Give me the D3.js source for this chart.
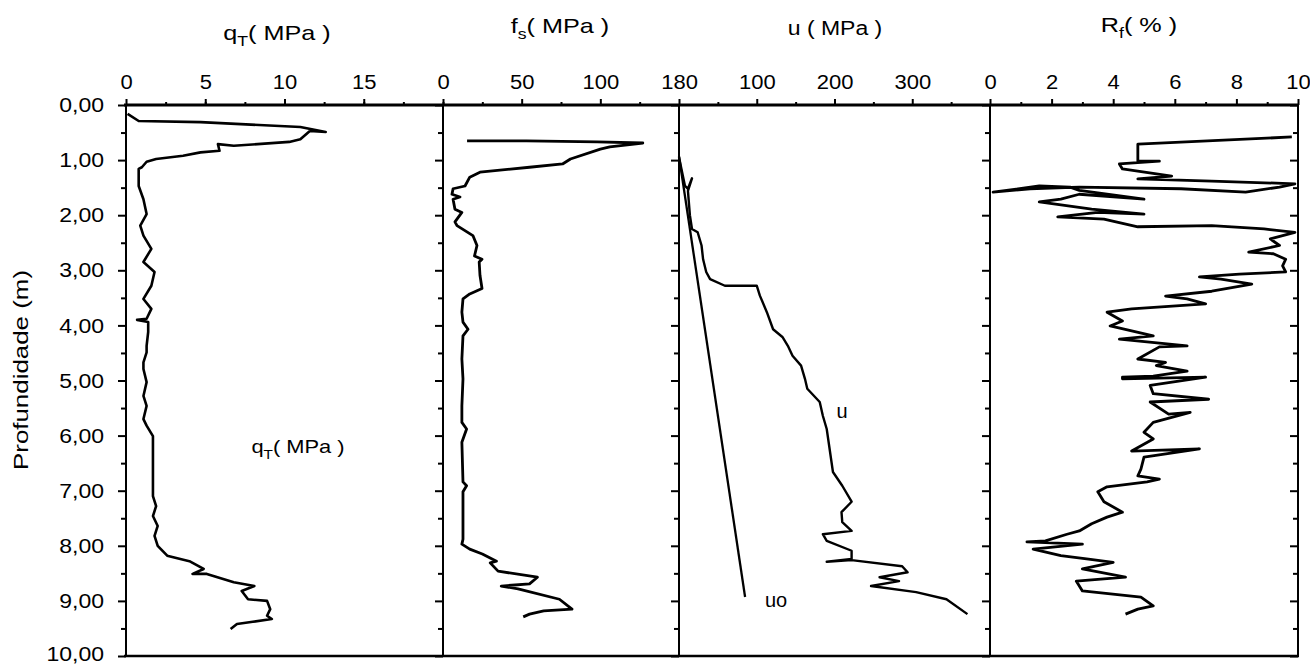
<!DOCTYPE html>
<html><head><meta charset="utf-8">
<script src="https://cdn.jsdelivr.net/npm/d3@7"></script>
<style>
body{margin:0;background:#fff;}
svg text{font-family:"Liberation Sans",Arial,sans-serif;fill:#000;}
</style></head>
<body><svg id="c" width="1310" height="666"></svg>
<script>
// ---- data: [depth (m), value] ----
const qT = [[0.16,0.1],[0.29,0.8],[0.31,4.7],[0.40,11.0],[0.49,12.6],[0.47,11.6],[0.62,11.0],[0.67,10.3],[0.74,6.8],[0.71,5.8],[0.83,5.9],[0.86,4.7],[0.92,3.6],[0.98,1.9],[1.03,1.3],[1.13,1.0],[1.16,0.8],[1.47,0.8],[1.71,1.1],[1.98,1.3],[2.19,0.9],[2.37,1.1],[2.61,1.6],[2.85,1.1],[3.03,1.8],[3.28,1.6],[3.52,1.1],[3.70,1.6],[3.88,1.3],[3.90,0.7],[3.94,1.4],[4.12,1.4],[4.37,1.3],[4.49,1.3],[4.67,1.1],[4.79,1.1],[5.03,1.3],[5.28,1.1],[5.46,1.3],[5.70,1.1],[5.82,1.3],[6.01,1.7],[7.10,1.7],[7.28,1.9],[7.46,1.7],[7.64,2.0],[7.82,1.8],[8.00,2.0],[8.18,2.6],[8.28,4.0],[8.42,4.9],[8.51,4.2],[8.51,5.1],[8.66,6.8],[8.73,8.1],[8.82,7.3],[8.97,7.7],[9.00,8.9],[9.15,9.1],[9.27,8.9],[9.33,9.2],[9.38,8.0],[9.42,7.0],[9.51,6.6]];
const fs = [[0.65,15.3],[0.65,53],[0.67,98],[0.69,127],[0.76,106],[0.80,100],[0.98,81],[1.07,76],[1.13,55],[1.22,23.5],[1.31,17],[1.47,14],[1.52,6.4],[1.62,5.7],[1.67,10.8],[1.71,6.4],[1.89,7.6],[1.95,12],[2.12,7.6],[2.19,8.9],[2.37,19],[2.55,21.6],[2.74,20],[2.80,24.8],[2.85,23],[3.09,23.5],[3.33,24.8],[3.43,17],[3.52,12.7],[3.76,12],[3.94,12.7],[4.07,15.9],[4.19,12.7],[4.61,12],[4.97,12.7],[5.46,12],[5.76,12],[5.88,15],[6.12,12],[6.84,12.7],[6.91,15],[7.02,12.7],[7.88,12.7],[7.97,12],[8.06,17],[8.15,25],[8.28,34],[8.31,30],[8.46,35],[8.57,60],[8.69,55],[8.73,37],[8.78,47.7],[8.97,74],[9.15,82],[9.18,64],[9.24,55],[9.29,51]];
const u = [[0.95,0],[1.47,7.7],[1.52,11.5],[1.33,16.7],[1.56,11.5],[2.00,14],[2.25,16.7],[2.31,24],[2.55,29],[2.80,31],[3.03,35],[3.16,40],[3.28,59],[3.28,100],[3.46,104],[3.76,113],[4.07,121],[4.21,133],[4.37,140],[4.55,146],[4.73,157],[4.97,162],[5.15,165],[5.39,181],[5.64,185],[5.88,190],[6.66,198],[6.91,210],[7.20,222],[7.39,209],[7.57,210],[7.73,222],[7.79,185],[7.91,190],[8.09,222],[8.24,222],[8.29,190],[8.26,222],[8.37,287],[8.48,294],[8.57,258],[8.64,283],[8.73,247],[8.84,305],[8.97,344],[9.24,371]];
const uo = [[0.93,0],[8.93,85]];
const rf = [[0.58,9.8],[0.71,4.8],[1.02,4.8],[1.02,5.5],[1.07,4.2],[1.16,4.3],[1.29,5.9],[1.34,4.8],[1.38,7.2],[1.43,9.9],[1.49,9.4],[1.58,8.3],[1.52,6.2],[1.49,2.9],[1.52,1.3],[1.58,0.1],[1.47,1.6],[1.49,2.6],[1.55,2.9],[1.71,5.0],[1.62,2.9],[1.71,2.3],[1.76,1.6],[1.89,3.3],[1.98,5.0],[1.95,3.5],[2.03,2.2],[2.07,3.7],[2.21,4.8],[2.19,7.2],[2.25,8.9],[2.31,9.9],[2.43,9.1],[2.55,9.4],[2.67,8.4],[2.70,9.2],[2.80,9.6],[2.92,9.5],[3.03,9.6],[3.07,8.1],[3.12,6.8],[3.16,7.5],[3.25,8.5],[3.38,7.2],[3.47,5.7],[3.52,6.4],[3.61,7.0],[3.70,4.6],[3.76,3.8],[3.92,4.3],[4.01,3.9],[4.19,5.3],[4.25,4.2],[4.37,6.4],[4.39,5.5],[4.61,4.8],[4.67,5.7],[4.73,5.4],[4.83,6.4],[4.92,5.3],[4.94,4.3],[4.97,4.3],[4.94,7.0],[5.09,5.2],[5.24,5.3],[5.34,7.1],[5.39,5.2],[5.61,5.8],[5.58,6.5],[5.76,5.3],[5.94,5.0],[6.06,5.3],[6.28,4.6],[6.24,6.8],[6.39,5.0],[6.61,4.9],[6.73,4.8],[6.79,5.5],[6.84,5.1],[6.93,3.8],[7.02,3.5],[7.20,3.7],[7.39,4.3],[7.48,3.8],[7.60,3.3],[7.73,2.9],[7.79,2.5],[7.91,1.8],[7.93,1.2],[7.97,3.0],[8.06,1.4],[8.18,2.3],[8.24,3.2],[8.30,4.0],[8.42,3.0],[8.57,4.4],[8.60,3.7],[8.64,2.8],[8.82,3.0],[8.93,4.9],[9.09,5.3],[9.15,4.8],[9.24,4.4]];

const depthTicks = [0,1,2,3,4,5,6,7,8,9,10];
const qTTicks = [0,5,10,15], qTLabels = ["0","5","10","15"];
const fsTicks = [0,50,100,150], fsLabels = ["0","50","100","180"];
const uTicks = [100,200,300], uLabels = ["100","200","300"];
const rfTicks = [0,2,4,6,8,10], rfLabels = ["0","2","4","6","8","10"];

// ---- layout ----
const svg = d3.select("#c");
const yTop = 105, yBot = 656;
const y = d3.scaleLinear([0,10],[yTop,yBot]);
const xq = d3.scaleLinear([0,20],[126,443]);
const xf = d3.scaleLinear([0,150],[443,679]);
const xu = d3.scaleLinear([0,400],[679,990]);
const xr = d3.scaleLinear([0,10],[990,1298]);

function stretch(sel,k){ sel.each(function(){ const w=this.getComputedTextLength(); d3.select(this).attr("textLength",w*k).attr("lengthAdjust","spacingAndGlyphs");}); }

// vertical ticks on each panel divider (pointing left)
[126,443,679,990,1298].forEach((bx,i)=>{
  const gMin = svg.append("g").attr("transform",`translate(${bx},0)`)
    .call(d3.axisLeft(y).tickValues(d3.range(0.5,10,1)).tickSize(5).tickFormat(""));
  const gMaj = svg.append("g").attr("transform",`translate(${bx},0)`)
    .call(d3.axisLeft(y).tickValues(depthTicks).tickSize(8)
      .tickFormat(i===0 ? (d=>d3.format(".2f")(d).replace(".",",")) : ""));
  [gMin,gMaj].forEach(g=>{g.select(".domain").remove(); g.selectAll("line").attr("stroke","#000").attr("stroke-width",2);});
  if(i===0){
    gMaj.selectAll("text").attr("font-size",20).attr("x",-22)
      .attr("dy",d=>d===10?"0.2em":"0.33em")
      .style("font-family","Liberation Sans, Arial, sans-serif");
    stretch(gMaj.selectAll("text"),1.15);
  }
});

// top axes
function topAxis(scale, ticks, labels, minor){
  const gm = svg.append("g").attr("transform",`translate(0,${yTop})`)
    .call(d3.axisTop(scale).tickValues(minor).tickSize(3).tickFormat(""));
  const g = svg.append("g").attr("transform",`translate(0,${yTop})`)
    .call(d3.axisTop(scale).tickValues(ticks).tickSize(6).tickFormat((d,i)=>labels[i]));
  [g,gm].forEach(s=>{s.select(".domain").remove(); s.selectAll("line").attr("stroke","#000").attr("stroke-width",2);});
  g.selectAll("text").attr("font-size",20).attr("y",-16).attr("dy",0)
    .style("font-family","Liberation Sans, Arial, sans-serif");
  stretch(g.selectAll("text"),1.1);
}
topAxis(xq,qTTicks,qTLabels,d3.range(2.5,20.1,2.5));
topAxis(xf,fsTicks,fsLabels,[25,75,125]);
topAxis(xu,uTicks,uLabels,[50,150,250,350]);
topAxis(xr,rfTicks,rfLabels,[1,3,5,7,9]);

// frame
svg.append("line").attr("x1",124).attr("x2",1299).attr("y1",yTop).attr("y2",yTop).attr("stroke","#000").attr("stroke-width",3);
svg.append("line").attr("x1",124).attr("x2",1299).attr("y1",yBot).attr("y2",yBot).attr("stroke","#000").attr("stroke-width",2.5);
[126,443,679,990,1298].forEach(bx=>svg.append("line").attr("x1",bx).attr("x2",bx).attr("y1",yTop).attr("y2",yBot).attr("stroke","#000").attr("stroke-width",2));

// curves
function curve(data, xs, w){
  svg.append("path").datum(data)
    .attr("d", d3.line().x(d=>xs(d[1])).y(d=>y(d[0])))
    .attr("fill","none").attr("stroke","#000").attr("stroke-width",w).attr("stroke-linejoin","round");
}
curve(qT,xq,2.6); curve(fs,xf,2.8); curve(u,xu,2.4); curve(uo,xu,2.3); curve(rf,xr,2.8);

// titles
function title(x,yb,main,sub,rest,fs0){
  const t = svg.append("text").attr("x",x).attr("y",yb).attr("text-anchor","middle").attr("font-size",fs0);
  t.append("tspan").text(main);
  t.append("tspan").attr("font-size",fs0*0.7).attr("dy",6).text(sub);
  t.append("tspan").attr("dy",-6).text(rest);
  return t;
}
stretch(title(277,40,"q","T","( MPa )",21).selectAll("tspan"),1.2);
stretch(title(560,33,"f","s","( MPa )",21).selectAll("tspan"),1.2);
const ut = svg.append("text").attr("x",835).attr("y",35).attr("text-anchor","middle").attr("font-size",20).text("u ( MPa )");
stretch(ut,1.15);
stretch(title(1139,32,"R","f","( % )",21).selectAll("tspan"),1.2);

// inner labels
stretch(title(298,453,"q","T","( MPa )",19).selectAll("tspan"),1.15);
svg.append("text").attr("x",842).attr("y",418).attr("text-anchor","middle").attr("font-size",20).text("u");
svg.append("text").attr("x",776).attr("y",607).attr("text-anchor","middle").attr("font-size",20).text("uo");

// y label
svg.append("text").attr("transform","translate(28,370) rotate(-90)").attr("text-anchor","middle")
  .attr("font-size",21).attr("textLength",200).attr("lengthAdjust","spacingAndGlyphs").text("Profundidade (m)");
</script></body></html>
